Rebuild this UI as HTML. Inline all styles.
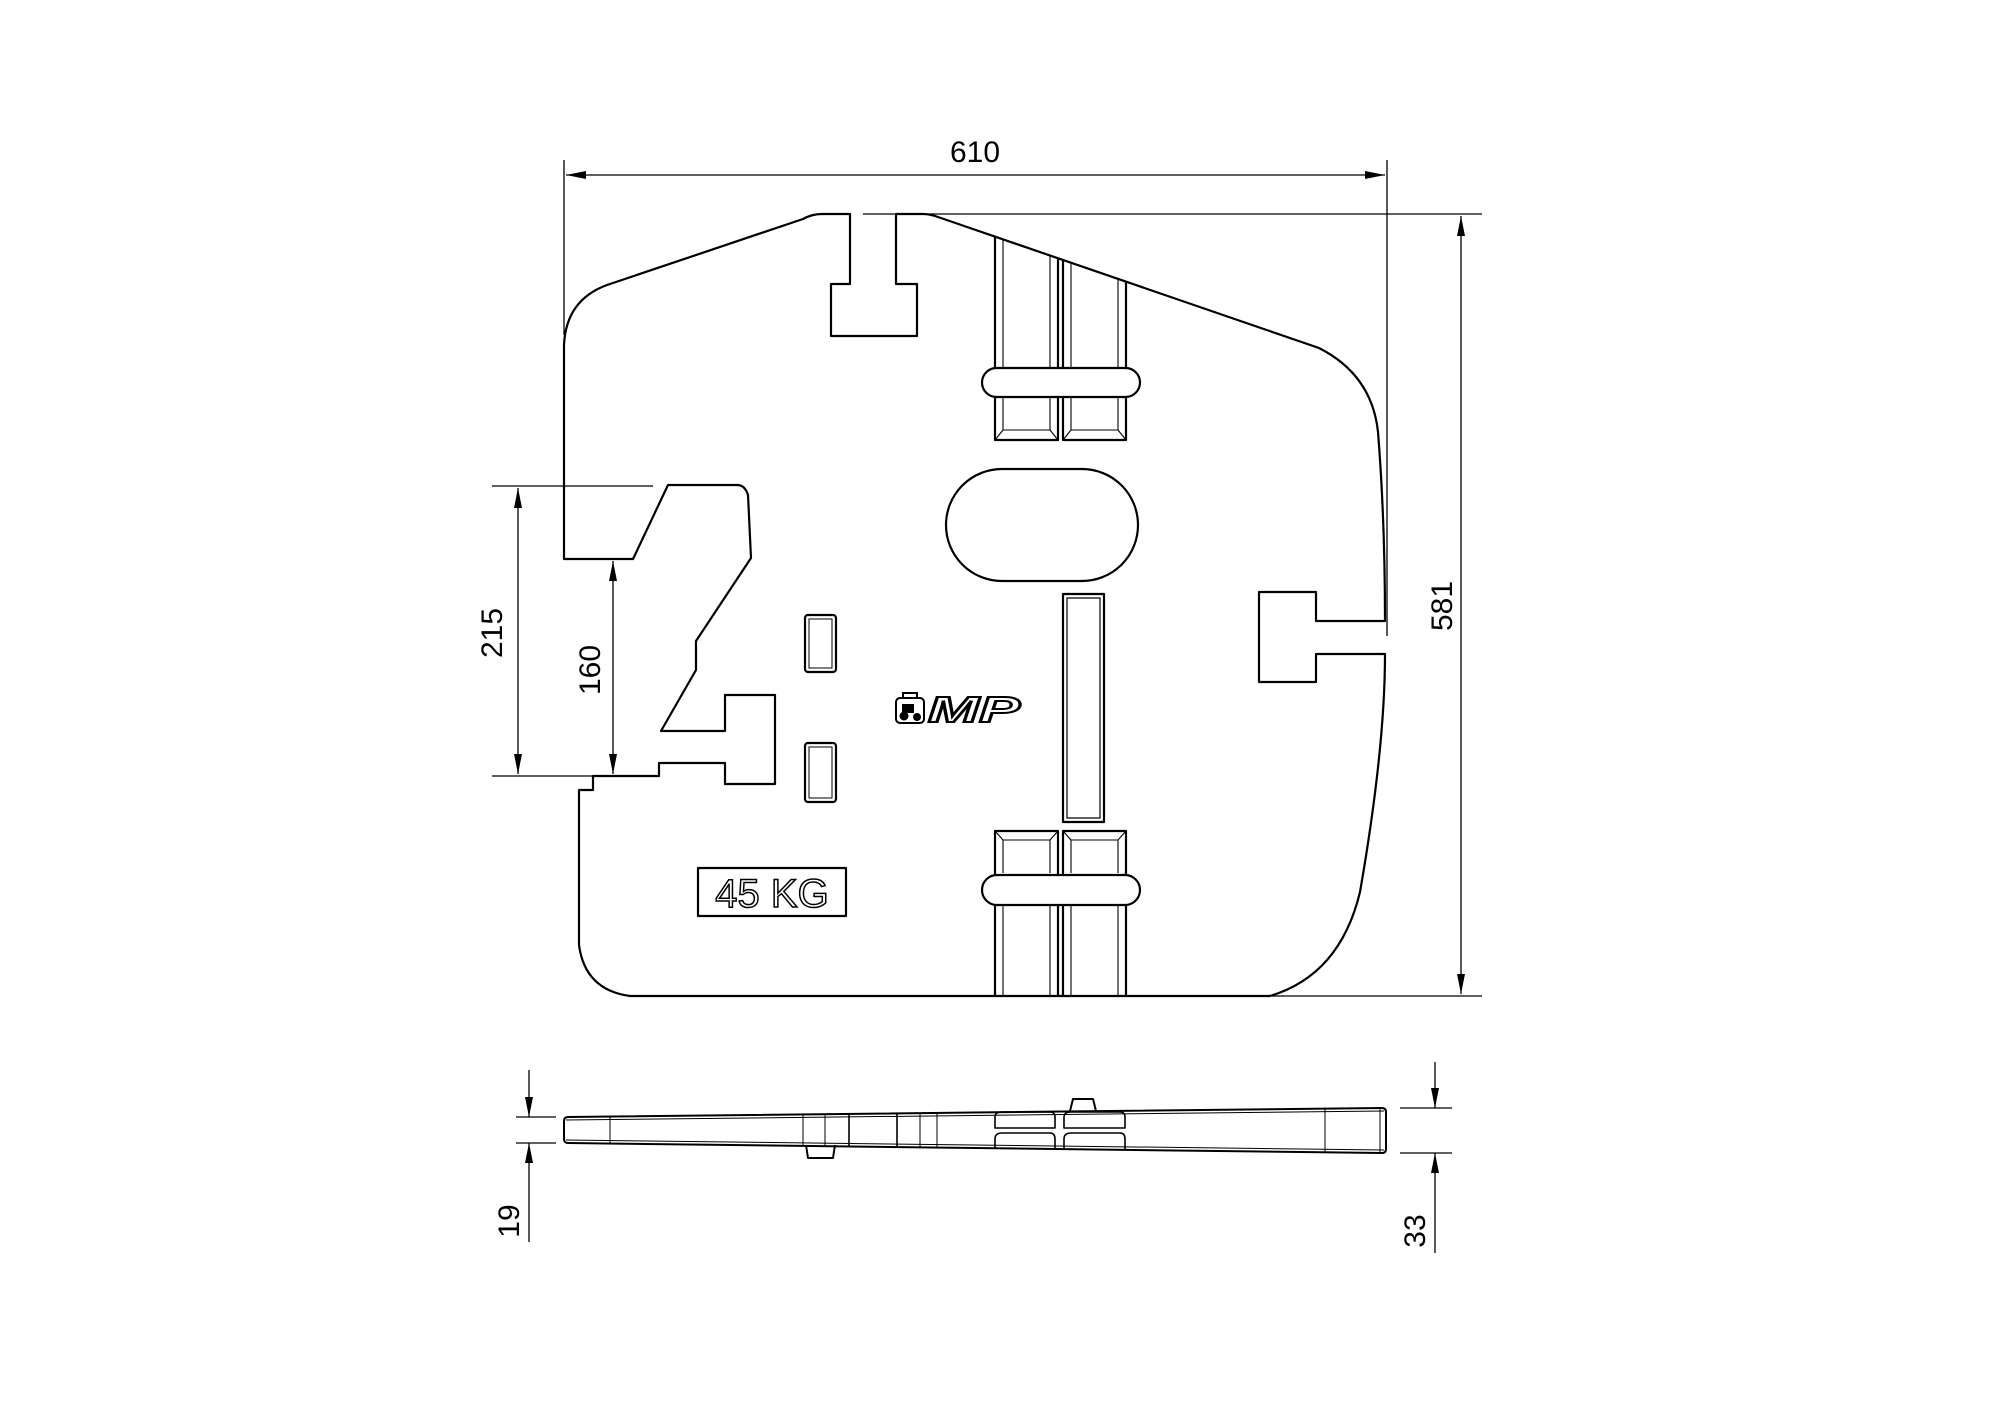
<!DOCTYPE html>
<html><head><meta charset="utf-8"><style>
html,body{margin:0;padding:0;background:#fff;}
svg{display:block;}
text{font-family:"Liberation Sans",sans-serif;fill:#000;}
</style></head><body>
<svg width="2000" height="1414" viewBox="0 0 2000 1414" xmlns="http://www.w3.org/2000/svg">
<defs>
<marker id="a" viewBox="0 0 20 8" refX="20" refY="4" markerWidth="20" markerHeight="8" markerUnits="userSpaceOnUse" orient="auto-start-reverse"><path d="M0,0 L20,4 L0,8 z" fill="#000"/></marker>
</defs>
<g fill="none" stroke="#000" stroke-width="1.3">
<line x1="564" y1="160" x2="564" y2="335"/>
<line x1="1387" y1="160" x2="1387" y2="636"/>
<line x1="566" y1="175" x2="1385" y2="175" marker-start="url(#a)" marker-end="url(#a)"/>
<line x1="863" y1="214" x2="1482" y2="214"/>
<line x1="1262" y1="996" x2="1482" y2="996"/>
<line x1="1461" y1="216" x2="1461" y2="994" marker-start="url(#a)" marker-end="url(#a)"/>
<line x1="492" y1="486" x2="653" y2="486"/>
<line x1="492" y1="776" x2="593" y2="776"/>
<line x1="518" y1="488" x2="518" y2="774" marker-start="url(#a)" marker-end="url(#a)"/>
<line x1="613" y1="561" x2="613" y2="774" marker-start="url(#a)" marker-end="url(#a)"/>
</g>
<text x="975" y="162" font-size="30" text-anchor="middle">610</text>
<text transform="translate(1452,606) rotate(-90)" font-size="30" text-anchor="middle">581</text>
<text transform="translate(502,633) rotate(-90)" font-size="30" text-anchor="middle">215</text>
<text transform="translate(600,670) rotate(-90)" font-size="30" text-anchor="middle">160</text>

<g fill="none" stroke="#000" stroke-width="2.2" stroke-linejoin="round">
<path d="M564,559 L564,345 Q566,300 607,285 L803,219 Q812,214 822,214 L850,214 L850,284 L831,284 L831,336 L917,336 L917,284 L896,284 L896,214 L923,214 Q930,214 938,217 L1319,348 Q1372,375 1378,432 Q1385,520 1385,621 L1316,621 L1316,592 L1259,592 L1259,682 L1316,682 L1316,654 L1385,654 C1385,720 1376,800 1360,892 Q1340,975 1270,996 L630,996 Q585,990 579,945 L579,790 L593,790 L593,776 L659,776 L659,763 L725,763 L725,784 L775,784 L775,695 L725,695 L725,731 L661,731 L696,670 L696,641 L751,558 L748,495 Q745,485 737,485 L668,485 L633,559 Z"/>
<rect x="946" y="469" width="192" height="112" rx="56" ry="56"/>
<rect x="1063" y="594" width="41" height="228"/>
<rect x="1067" y="598" width="33" height="220" stroke-width="1.2"/>
<rect x="805" y="615" width="31" height="57" rx="3"/>
<rect x="809" y="619" width="23" height="49" stroke-width="1"/>
<rect x="805" y="743" width="31" height="59" rx="3"/>
<rect x="809" y="747" width="23" height="51" stroke-width="1"/>
<path d="M995,237 L995,440 L1058,440 L1058,258"/>
<path d="M1063,260 L1063,440 L1126,440 L1126,282"/>
<path d="M1003,239 L1003,368 M1050,256 L1050,368 M1071,263 L1071,368 M1118,279 L1118,368" stroke-width="1.1"/>
<path d="M1003,397 L1003,430 L1050,430 L1050,397 M995,440 L1003,430 M1058,440 L1050,430" stroke-width="1.1"/>
<path d="M1071,397 L1071,430 L1118,430 L1118,397 M1063,440 L1071,430 M1126,440 L1118,430" stroke-width="1.1"/>
<rect x="982" y="368" width="158" height="29" rx="14.5" fill="#fff"/>
<path d="M995,996 L995,831 L1058,831 L1058,996"/>
<path d="M1063,996 L1063,831 L1126,831 L1126,996"/>
<path d="M1003,873 L1003,840 L1050,840 L1050,873 M995,831 L1003,840 M1058,831 L1050,840" stroke-width="1.1"/>
<path d="M1071,873 L1071,840 L1118,840 L1118,873 M1063,831 L1071,840 M1126,831 L1118,840" stroke-width="1.1"/>
<path d="M1003,905 L1003,996 M1050,905 L1050,996 M1071,905 L1071,996 M1118,905 L1118,996" stroke-width="1.1"/>
<rect x="982" y="875" width="158" height="30" rx="15" fill="#fff"/>
<rect x="698" y="868" width="148" height="48"/>
</g>
<text x="772" y="907" font-size="40" text-anchor="middle" style="fill:#fff;stroke:#000;stroke-width:1.5">45 KG</text>
<g stroke="#000" stroke-width="2" fill="none">
<rect x="896" y="698" width="28" height="25" rx="4"/>
<path d="M903,698 L903,693 L917,693 L917,698"/>
<circle cx="904" cy="716" r="3.5" fill="#000"/><circle cx="917" cy="717" r="3" fill="#000"/>
<rect x="903" y="705" width="10" height="7" fill="#000"/>
</g>
<text x="928" y="722" font-size="36" font-weight="bold" font-style="italic" textLength="92" lengthAdjust="spacingAndGlyphs" style="fill:#fff;stroke:#000;stroke-width:2">MP</text>

<g fill="none" stroke="#000" stroke-width="1.3">
<line x1="516" y1="1117" x2="556" y2="1117"/>
<line x1="516" y1="1143" x2="556" y2="1143"/>
<line x1="529" y1="1070" x2="529" y2="1117" marker-end="url(#a)"/>
<line x1="529" y1="1242" x2="529" y2="1143" marker-end="url(#a)"/>
<line x1="1400" y1="1108" x2="1452" y2="1108"/>
<line x1="1400" y1="1153" x2="1452" y2="1153"/>
<line x1="1435" y1="1062" x2="1435" y2="1108" marker-end="url(#a)"/>
<line x1="1435" y1="1253" x2="1435" y2="1153" marker-end="url(#a)"/>
</g>
<text transform="translate(519,1221) rotate(-90)" font-size="30" text-anchor="middle">19</text>
<text transform="translate(1425,1231) rotate(-90)" font-size="30" text-anchor="middle">33</text>
<g fill="none" stroke="#000" stroke-width="2" stroke-linejoin="round">
<path d="M568,1117 L1382,1108 Q1386,1108 1386,1112 L1386,1149 Q1386,1153 1382,1153 L568,1143 Q564,1143 564,1139 L564,1121 Q564,1117 568,1117 Z"/>
<path d="M806,1145 L808,1158 L833,1158 L835,1145"/>
<path d="M1070,1111 L1073,1099 L1093,1099 L1096,1111"/>
<path d="M995,1128 L995,1117 Q995,1112 1002,1112 L1050,1112 Q1055,1112 1055,1117 L1055,1128 Z" stroke-width="1.6"/>
<path d="M1064,1128 L1064,1117 Q1064,1112 1071,1112 L1120,1112 Q1125,1112 1125,1117 L1125,1128 Z" stroke-width="1.6"/>
<path d="M995,1149 L995,1139 Q995,1133 1002,1133 L1050,1133 Q1055,1133 1055,1139 L1055,1149" stroke-width="1.6"/>
<path d="M1064,1149 L1064,1139 Q1064,1133 1071,1133 L1120,1133 Q1125,1133 1125,1139 L1125,1149" stroke-width="1.6"/>
</g>
<g stroke="#000" stroke-width="1">
<line x1="566" y1="1120" x2="1384" y2="1111"/>
<line x1="566" y1="1140" x2="1384" y2="1150"/>
<line x1="610" y1="1117" x2="610" y2="1143"/>
<line x1="803" y1="1115" x2="803" y2="1145"/>
<line x1="825" y1="1114" x2="825" y2="1146"/>
<line x1="849" y1="1114" x2="849" y2="1146" stroke-width="1.6"/>
<line x1="897" y1="1113" x2="897" y2="1147" stroke-width="1.6"/>
<line x1="920" y1="1113" x2="920" y2="1147"/>
<line x1="937" y1="1113" x2="937" y2="1147"/>
<line x1="1325" y1="1109" x2="1325" y2="1152"/>
<line x1="1380" y1="1108" x2="1380" y2="1153"/>
</g>
</svg>
</body></html>
